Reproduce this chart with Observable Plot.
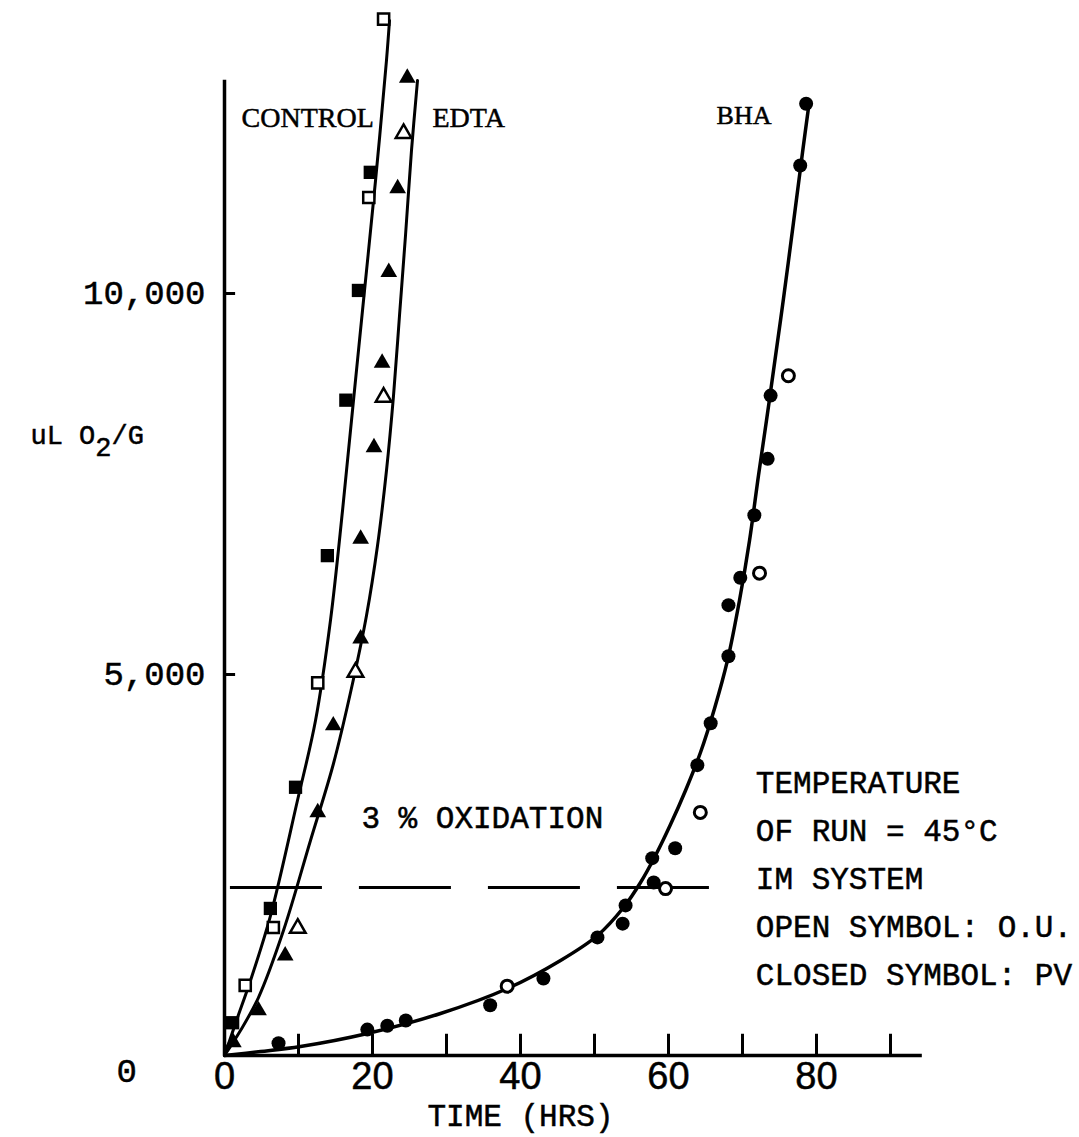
<!DOCTYPE html>
<html>
<head>
<meta charset="utf-8">
<script src="https://cdn.jsdelivr.net/npm/d3@7"></script>
<script src="https://cdn.jsdelivr.net/npm/@observablehq/plot@0.6"></script>
<style>
  html, body { margin: 0; padding: 0; background: #fff; }
  #chart svg { display: block; }
  #chart svg text { stroke: #000; stroke-width: 0.5px; paint-order: stroke; }
</style>
</head>
<body>
<div id="chart"></div>
<script>
// ---------- data: [time (hrs), uL O2/G] ----------
const controlOpen   = [[21.5,13600],[19.5,11260],[12.6,4890],[6.6,1680],[2.8,920]];
const controlClosed = [[19.7,11590],[18.1,10040],[16.4,8600],[13.9,6560],[9.6,3520],[6.2,1930],[1.1,430]];
const edtaOpen      = [[24.2,12100],[21.5,8640],[17.7,5030],[9.9,1670]];
const edtaClosed    = [[24.7,12830],[23.4,11380],[22.2,10280],[21.3,9090],[20.2,7980],[18.4,6780],
                       [18.4,5470],[14.7,4330],[12.6,3190],[8.2,1310],[4.6,590],[1.2,170]];
const bhaOpen       = [[38.2,910],[59.6,2190],[64.3,3190],[72.3,6330],[76.2,8920]];
const bhaClosed     = [[7.3,160],[19.3,340],[22.0,390],[24.5,460],[35.9,660],[43.1,1010],[50.4,1550],
                       [53.8,1730],[54.2,1970],[58.0,2270],[57.8,2590],[60.9,2720],[63.9,3810],[65.7,4360],
                       [68.1,5240],[68.1,5910],[69.7,6270],[71.6,7090],[73.4,7830],[73.8,8660],[77.8,11680],[78.6,12490]];

// hand-drawn fitted curves
const controlCurve = [[0,0],[1.62,459],[3.51,984],[6.22,1837],[9.86,3346],[12.30,4396],[14.32,5709],
                      [15.95,7152],[17.43,8596],[18.92,10039],[20.41,11483],[21.89,13058],[22.30,13583]];
const edtaCurve    = [[0,0],[2.16,328],[4.59,761],[7.97,1640],[11.62,2822],[14.73,3832],[17.30,4882],
                      [19.19,5774],[20.68,6693],[21.89,7677],[22.84,8661],[23.65,9711],[24.46,10761],
                      [25.27,11877],[26.08,12795]];
const bhaCurve     = [[0,0],[4.86,52],[10.27,118],[19.32,289],[29.19,551],[38.24,879],[45.41,1247],
                      [50.41,1575],[53.92,1942],[56.22,2270],[58.24,2625],[60.27,3031],[62.30,3478],
                      [64.32,3976],[66.22,4554],[67.97,5184],[69.59,5971],[70.95,6759],[72.16,7612],
                      [73.24,8333],[74.19,8990],[75.54,9934],[76.89,10932],[78.11,11850],[79.05,12533]];

const oxidationLevel = [2205];          // "3 % OXIDATION" level
const oxidationSpan  = [0.8, 67];       // extent of dashed line (hrs)
const xTickLabels = [0, 20, 40, 60, 80];
const xTickMarks  = [10, 20, 30, 40, 50, 60, 70, 80, 90];
const yTickLabels = [5000, 10000];
const xAxisEnd = 94.3;
const yAxisTop = 12800;

const seriesNames = ["CONTROL", "EDTA", "BHA"];
const noteLines = ["TEMPERATURE", "OF RUN = 45°C", "IM SYSTEM", "OPEN SYMBOL: O.U.", "CLOSED SYMBOL: PV"];
const oxidationText = "3 % OXIDATION";
const xLabel = "TIME (HRS)";
const yLabel = "uL O2/G";

// ---------- chart ----------
const MONO = "'Liberation Mono', 'DejaVu Sans Mono', monospace";
const SERIF = "'Liberation Serif', 'DejaVu Serif', serif";
const NARROW = "'Liberation Sans Narrow', 'Liberation Sans', sans-serif";
const px = d => d[0], py = d => d[1];

const chart = Plot.plot({
  width: 1079,
  height: 1137,
  marginLeft: 224,
  marginRight: 115,
  marginTop: 0,
  marginBottom: 82,
  x: {domain: [0, 100]},
  y: {domain: [0, 13845]},
  style: {fontFamily: MONO, background: "#fff", color: "#000", overflow: "visible"},
  marks: [
    // axes lines
    Plot.ruleX([0], {y1: 0, y2: yAxisTop, stroke: "#000", strokeWidth: 3.5}),
    Plot.ruleY([0], {x1: 0, x2: xAxisEnd, stroke: "#000", strokeWidth: 3.5}),
    // tick marks
    Plot.ruleX(xTickMarks, {x: d => d, y1: 0, y2: 200, insetBottom: 6, stroke: "#000", strokeWidth: 3}),
    Plot.ruleY(yTickLabels, {y: d => d, x1: 0, x2: 1.5, stroke: "#000", strokeWidth: 3}),
    // tick labels
    Plot.axisX(xTickLabels, {tickSize: 0, tickPadding: 7, fontSize: 38, fontFamily: NARROW, label: null}),
    Plot.axisY(yTickLabels, {tickSize: 0, tickPadding: 19, fontSize: 34, fontFamily: MONO,
                             tickFormat: d3.format(","), label: null}),
    Plot.text(["0"], {frameAnchor: "bottom-left", dx: -108, dy: 26, lineAnchor: "bottom",
                      fontSize: 34, fontFamily: MONO}),
    // axis titles
    Plot.text([xLabel], {x: 40, frameAnchor: "bottom", dy: 70, lineAnchor: "bottom",
                         fontSize: 31, fontFamily: MONO}),
    Plot.text([yLabel], {frameAnchor: "left", y: 8030, dx: -194, textAnchor: "start", lineAnchor: "bottom",
                         fontSize: 27, fontFamily: MONO}),
    // 3 % oxidation dashed line
    Plot.ruleY(oxidationLevel, {y: d => d, x1: oxidationSpan[0], x2: oxidationSpan[1],
                                stroke: "#000", strokeWidth: 3, strokeDasharray: "92,37"}),
    // fitted curves
    Plot.line(controlCurve, {x: px, y: py, curve: "catmull-rom", stroke: "#000", strokeWidth: 3}),
    Plot.line(edtaCurve, {x: px, y: py, curve: "catmull-rom", stroke: "#000", strokeWidth: 3}),
    Plot.line(bhaCurve, {x: px, y: py, curve: "catmull-rom", stroke: "#000", strokeWidth: 3.5}),
    // points
    Plot.dot(controlClosed, {x: px, y: py, symbol: "square", r: 7.5, fill: "#000"}),
    Plot.dot(controlOpen, {x: px, y: py, symbol: "square", r: 6.3, fill: "#fff", stroke: "#000", strokeWidth: 2.5}),
    Plot.dot(edtaClosed, {x: px, y: py, symbol: "triangle", r: 6.2, fill: "#000"}),
    Plot.dot(edtaOpen, {x: px, y: py, symbol: "triangle", r: 5.8, fill: "#fff", stroke: "#000", strokeWidth: 2.5}),
    Plot.dot(bhaClosed, {x: px, y: py, r: 7, fill: "#000"}),
    Plot.dot(bhaOpen, {x: px, y: py, r: 6, fill: "#fff", stroke: "#000", strokeWidth: 3}),
    // series names
    Plot.text([seriesNames[0]], {x: 2.3, y: 12190, textAnchor: "start", lineAnchor: "bottom",
                                 fontSize: 28, fontFamily: SERIF}),
    Plot.text([seriesNames[1]], {x: 28.1, y: 12190, textAnchor: "start", lineAnchor: "bottom",
                                 fontSize: 28, fontFamily: SERIF}),
    Plot.text([seriesNames[2]], {x: 66.5, y: 12218, textAnchor: "start", lineAnchor: "bottom",
                                 fontSize: 26, fontFamily: SERIF}),
    // annotations
    Plot.text([oxidationText], {x: 18.5, y: 2992, textAnchor: "start", lineAnchor: "bottom",
                                fontSize: 31, fontFamily: MONO}),
    Plot.text([noteLines.join("\n")], {x: 71.8, y: 3898, textAnchor: "start", lineAnchor: "top",
                                       lineHeight: 1.55, fontSize: 31, fontFamily: MONO})
  ]
});

// subscript "2" in the y label
d3.select(chart).selectAll("text").filter(function () { return this.textContent === yLabel; })
  .each(function () {
    const el = d3.select(this);
    el.text(null);
    el.append("tspan").text("uL O");
    el.append("tspan").attr("dy", "0.45em").text("2");
    el.append("tspan").attr("dy", "-0.45em").text("/G");
  });

document.getElementById("chart").appendChild(chart);
</script>
</body>
</html>
